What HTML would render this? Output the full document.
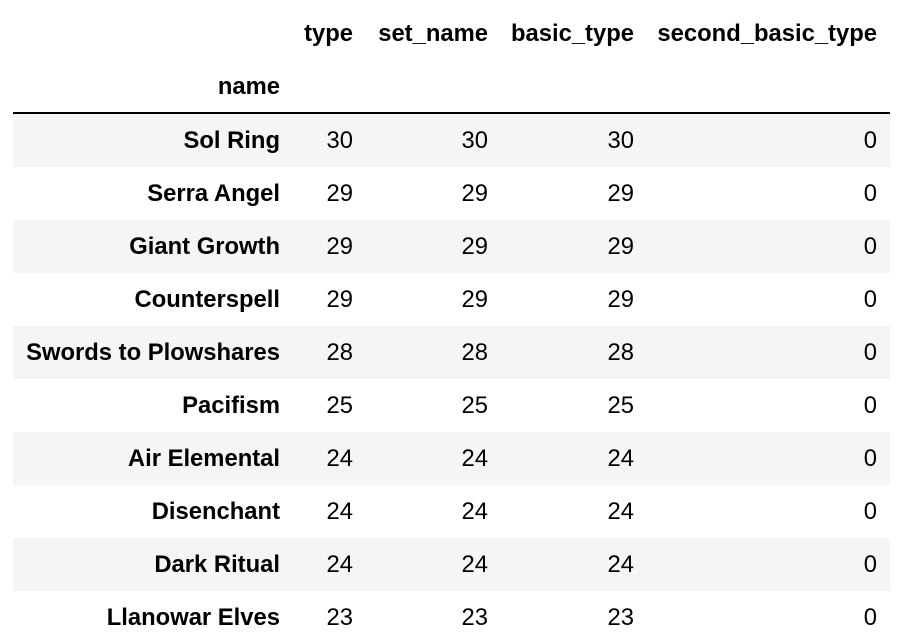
<!DOCTYPE html>
<html><head><meta charset="utf-8"><style>
body{margin:0;width:898px;height:644px;background:#fff;font-family:"Liberation Sans",Arial,sans-serif;font-size:23.8px;color:#000;position:relative;overflow:hidden}
.c{position:absolute;white-space:nowrap;line-height:26px;text-align:right}
.b{font-weight:bold}
.stripe{position:absolute;left:13px;width:877px;height:53px;background:#f5f5f5}
</style></head><body>
<div style="position:absolute;left:13px;top:112px;width:877px;height:2px;background:#000"></div>
<script>
const names=["Sol Ring","Serra Angel","Giant Growth","Counterspell","Swords to Plowshares","Pacifism","Air Elemental","Disenchant","Dark Ritual","Llanowar Elves"];
const typeVals=[30,29,29,29,28,25,24,24,24,23];
const setNameVals=[30,29,29,29,28,25,24,24,24,23];
const basicTypeVals=[30,29,29,29,28,25,24,24,24,23];
const secondBasicTypeVals=[0,0,0,0,0,0,0,0,0,0];
const headers=["type","set_name","basic_type","second_basic_type"];
const colRight=[353,488,634,877];
function cell(text,right,cy,bold,name){
  const d=document.createElement('div');
  d.className='c'+(bold?' b':'');
  d.textContent=text;
  d.style.right=(898-right)+'px';
  d.style.top=(cy-12)+'px';
  
  
  document.body.appendChild(d);
}
headers.forEach((h,i)=>cell(h,colRight[i],33,true,'column-header-'+h.replace(/_/g,'-')));
cell('name',280,86,true,'index-header-name');
const cols=[typeVals,setNameVals,basicTypeVals,secondBasicTypeVals];
names.forEach((n,r)=>{
  const top=114+r*53;
  if(r%2===0){
    const s=document.createElement('div');
    s.className='stripe';
    s.style.top=top+'px';
    
    
    document.body.appendChild(s);
  }
  const cy=top+26;
  cell(n,280,cy,true,'row-label');
  cols.forEach((arr,i)=>cell(String(arr[r]),colRight[i],cy,false,'cell-value'));
});
</script>
</body></html>
